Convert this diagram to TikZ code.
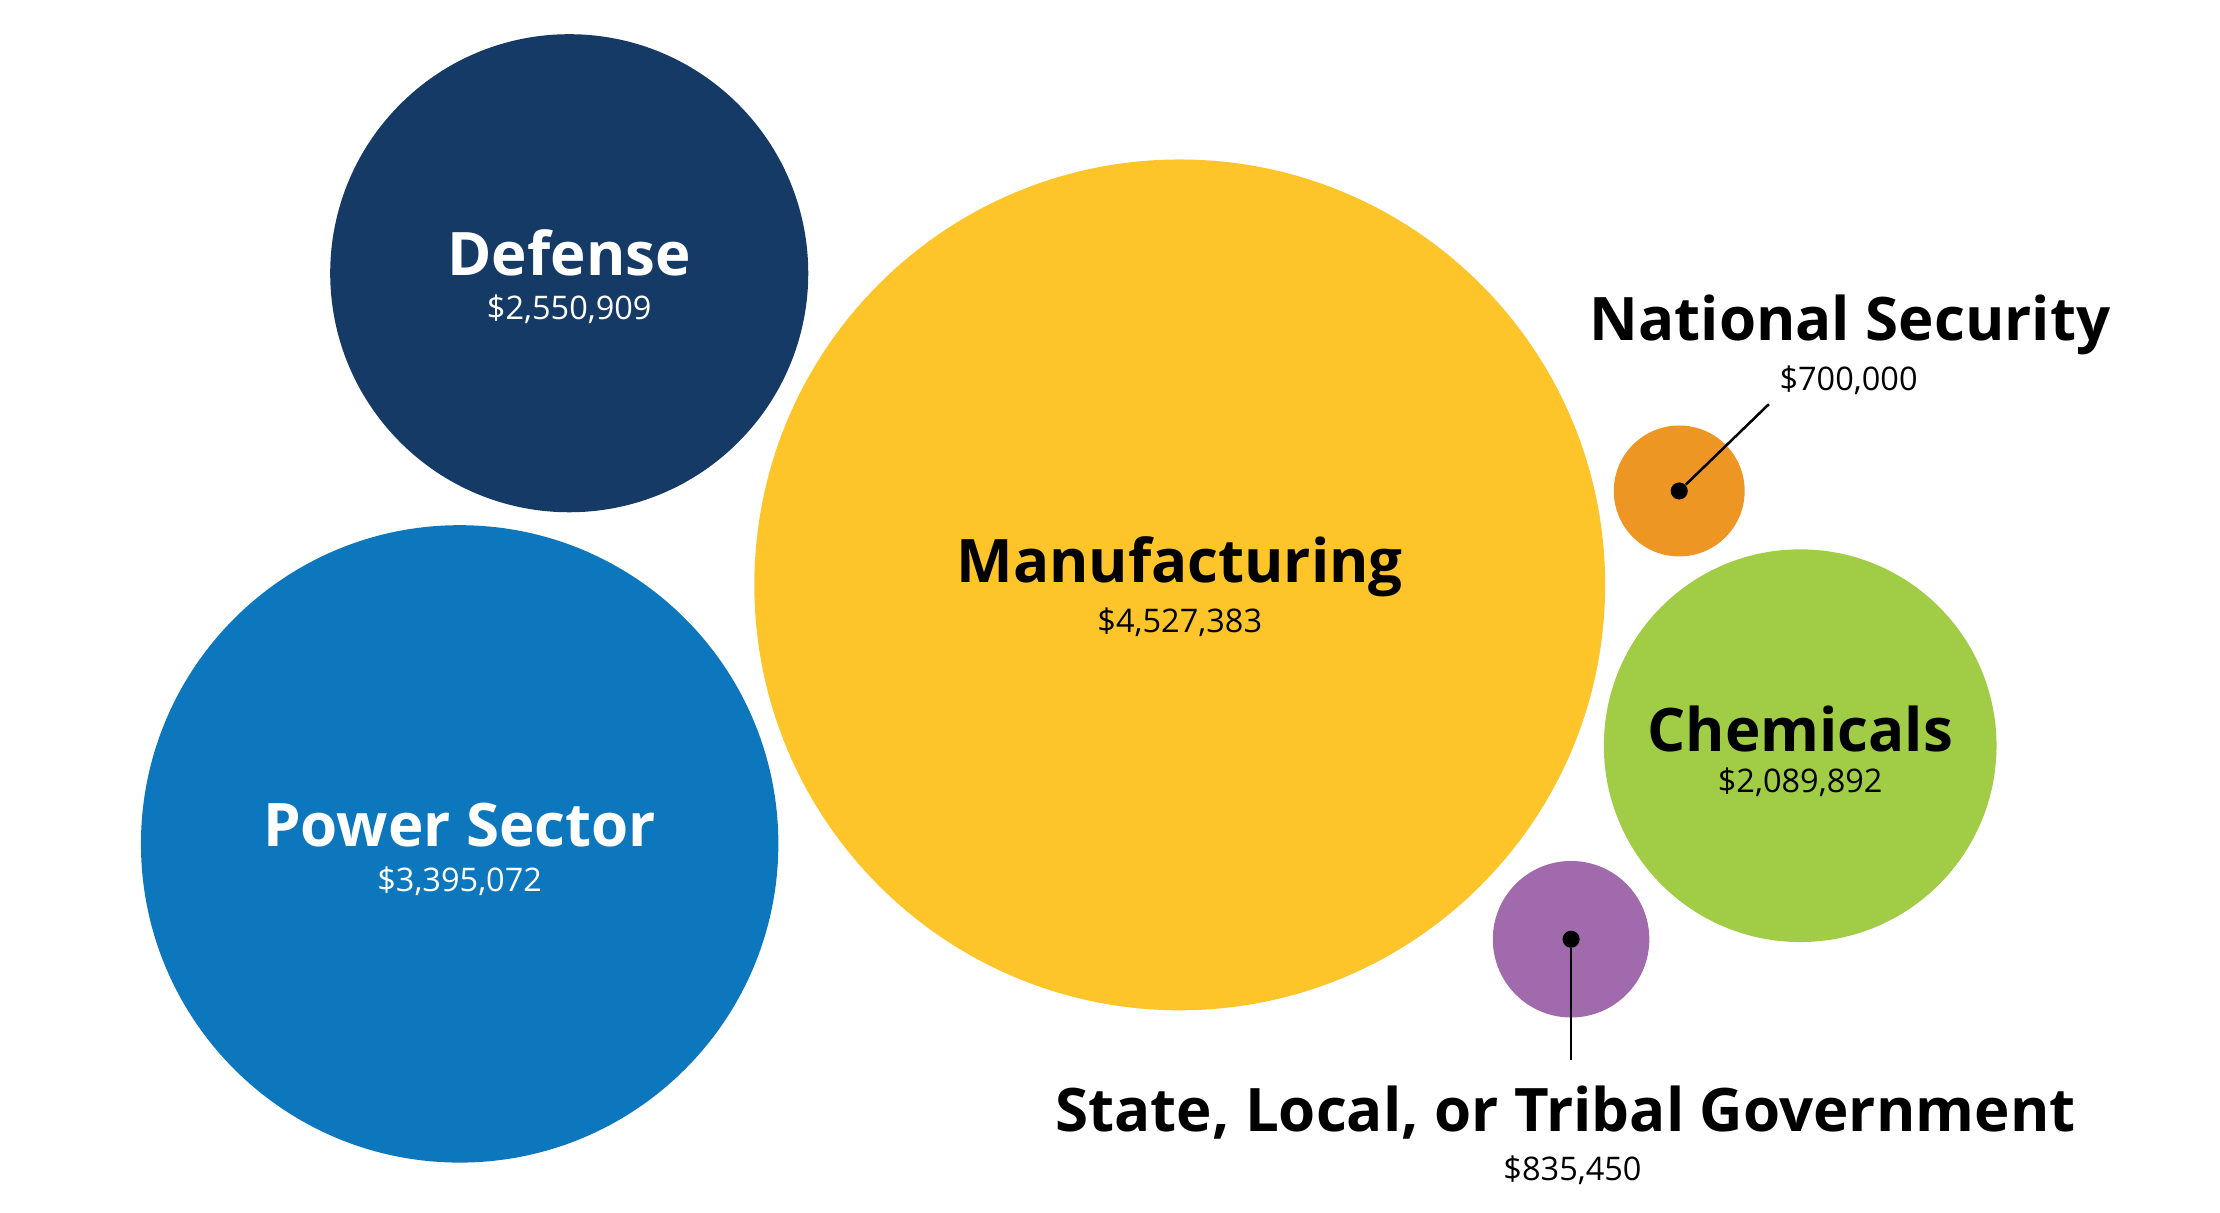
\documentclass[tikz,border=0pt]{standalone}
\usepackage{fontspec}
\setmainfont{Open Sans}
\definecolor{navy}{HTML}{163A66}
\definecolor{powerblue}{HTML}{0D77BD}
\definecolor{gold}{HTML}{FDC52A}
\definecolor{orange}{HTML}{EE9623}
\definecolor{lime}{HTML}{A0CC46}
\definecolor{plum}{HTML}{A06AAC}
\tikzset{
	bubble/.style={
		circle,
		fill=#1,
		inner sep=0pt,
	},
	title/.style={
		font=\fontsize{24}{28}\selectfont\bfseries,
		inner sep=0pt,
	},
	amount/.style={
		font=\fontsize{13}{15}\selectfont,
		inner sep=0pt,
	},
	dot/.style={
		circle,
		fill=black,
		inner sep=0pt,
		minimum size=0.24cm,
	},
}
\begin{document}
\begin{tikzpicture}[x=0.02cm,y=-0.02cm]
	\useasboundingbox (0,0) rectangle (1560,852);
	% bubbles
	\node[bubble=navy,minimum size=6.72cm] (def) at (400,192) {};
	\node[bubble=powerblue,minimum size=8.96cm] (pow) at (323,593) {};
	\node[bubble=gold,minimum size=11.96cm] (man) at (829,411) {};
	\node[bubble=orange,minimum size=1.84cm] (nat) at (1180,345) {};
	\node[bubble=lime,minimum size=5.52cm] (chem) at (1265,524) {};
	\node[bubble=plum,minimum size=2.2cm] (gov) at (1104,660) {};
	% labels inside
	\node[title,text=white] (deft) at (400,178) {Defense};
	\node[amount,text=white] (defa) at (400,217) {\$2,550,909};
	\node[title,text=white] (powt) at (323,580) {Power Sector};
	\node[amount,text=white] (powa) at (323,619) {\$3,395,072};
	\node[title] (mant) at (829,398) {Manufacturing};
	\node[amount] (mana) at (829,437) {\$4,527,383};
	\node[title] (chemt) at (1265,512) {Chemicals};
	\node[amount] (chema) at (1265,550) {\$2,089,892};
	% labels outside
	\node[title] (natt) at (1300,228) {National Security};
	\node[amount] (nata) at (1299,267) {\$700,000};
	\node[title] (govt) at (1100,782) {State, Local, or Tribal Government};
	\node[amount] (gova) at (1105,822) {\$835,450};
	% leaders
	\node[dot] (natd) at (nat) {};
	\node[dot] (govd) at (gov) {};
	\coordinate (natend) at (1243,284);
	\coordinate (govend) at (1104,745);
	\draw[line width=1pt] (natd) -- (natend);
	\draw[line width=1pt] (govd) -- (govend);
\end{tikzpicture}
\end{document}
